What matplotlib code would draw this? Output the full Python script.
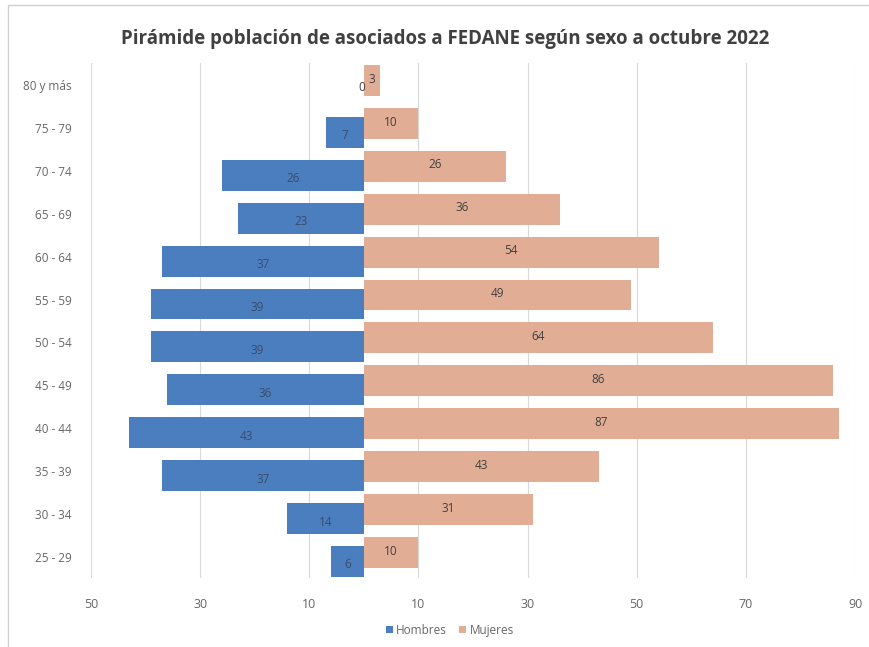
import numpy as np
import matplotlib
matplotlib.use("Agg")
import matplotlib.pyplot as plt
from matplotlib.lines import Line2D

# age groups from bottom to top
grupos = ["25 - 29", "30 - 34", "35 - 39", "40 - 44", "45 - 49", "50 - 54",
          "55 - 59", "60 - 64", "65 - 69", "70 - 74", "75 - 79", "80 y más"]
hombres = [6, 14, 37, 43, 36, 39, 39, 37, 23, 26, 7, 0]
mujeres = [10, 31, 43, 87, 86, 64, 49, 54, 36, 26, 10, 3]
ticks = [-50, -30, -10, 10, 30, 50, 70, 90]

AZUL = "#4A7EBF"
SALMON = "#E2AD95"
GRIS = "#666666"

plt.rcParams["font.family"] = ["Open Sans", "DejaVu Sans"]

fig = plt.figure(figsize=(8.70, 6.47), dpi=100)
ax = fig.add_axes([0.1046, 0.1059, 0.8782, 0.796])

y = np.arange(len(grupos))
h = 0.72
off = 0.105

b_h = ax.barh(y - off, [-v for v in hombres], height=h, color=AZUL, label="Hombres", zorder=3)
b_m = ax.barh(y + off, mujeres, height=h, color=SALMON, label="Mujeres", zorder=3)

for yi, v in zip(y, hombres):
    if v > 0:
        ax.text(-v / 2, yi - off - 0.08, str(v), ha="center", va="center",
                fontsize=8.5, color="#3a4c6b", zorder=4)
    else:
        ax.text(-0.3, yi - off + 0.05, str(v), ha="center", va="center",
                fontsize=8.5, color="#404040", zorder=4)
for yi, v in zip(y, mujeres):
    ax.text(v / 2, yi + off + 0.03, str(v), ha="center", va="center",
            fontsize=8.5, color="#404040", zorder=4)

ax.set_xlim(-50, 90)
ax.set_ylim(-0.5, len(grupos) - 0.5)
ax.set_xticks(ticks)
ax.set_xticklabels([str(abs(t)) for t in ticks], color=GRIS, fontsize=9)
ax.set_yticks(y)
ax.set_yticklabels(grupos, color=GRIS, fontsize=8.5)
ax.tick_params(axis="x", length=0, pad=14)
ax.tick_params(axis="y", length=0, pad=14)
ax.grid(axis="x", color="#d9d9d9", linewidth=0.8, zorder=0)
for s in ax.spines.values():
    s.set_visible(False)

fig.suptitle("Pirámide población de asociados a FEDANE según sexo a octubre 2022",
             x=0.512, y=0.955, fontsize=13.5, fontweight="bold", color="#404040")

fig.legend(handles=[b_h, b_m], loc="center", bbox_to_anchor=(0.517, 0.026),
           ncol=2, frameon=False, fontsize=8.5, handlelength=0.6, handleheight=0.6,
           handletextpad=0.3, columnspacing=1.0, labelcolor=GRIS)

# chart frame: only top and left edges are visible in the screenshot
fig.lines.append(Line2D([0.009, 0.009, 1.0], [0.0, 0.992, 0.992], transform=fig.transFigure,
                        color="#d0d0d0", linewidth=1))

fig.savefig("out.png", dpi=100, facecolor="white")
